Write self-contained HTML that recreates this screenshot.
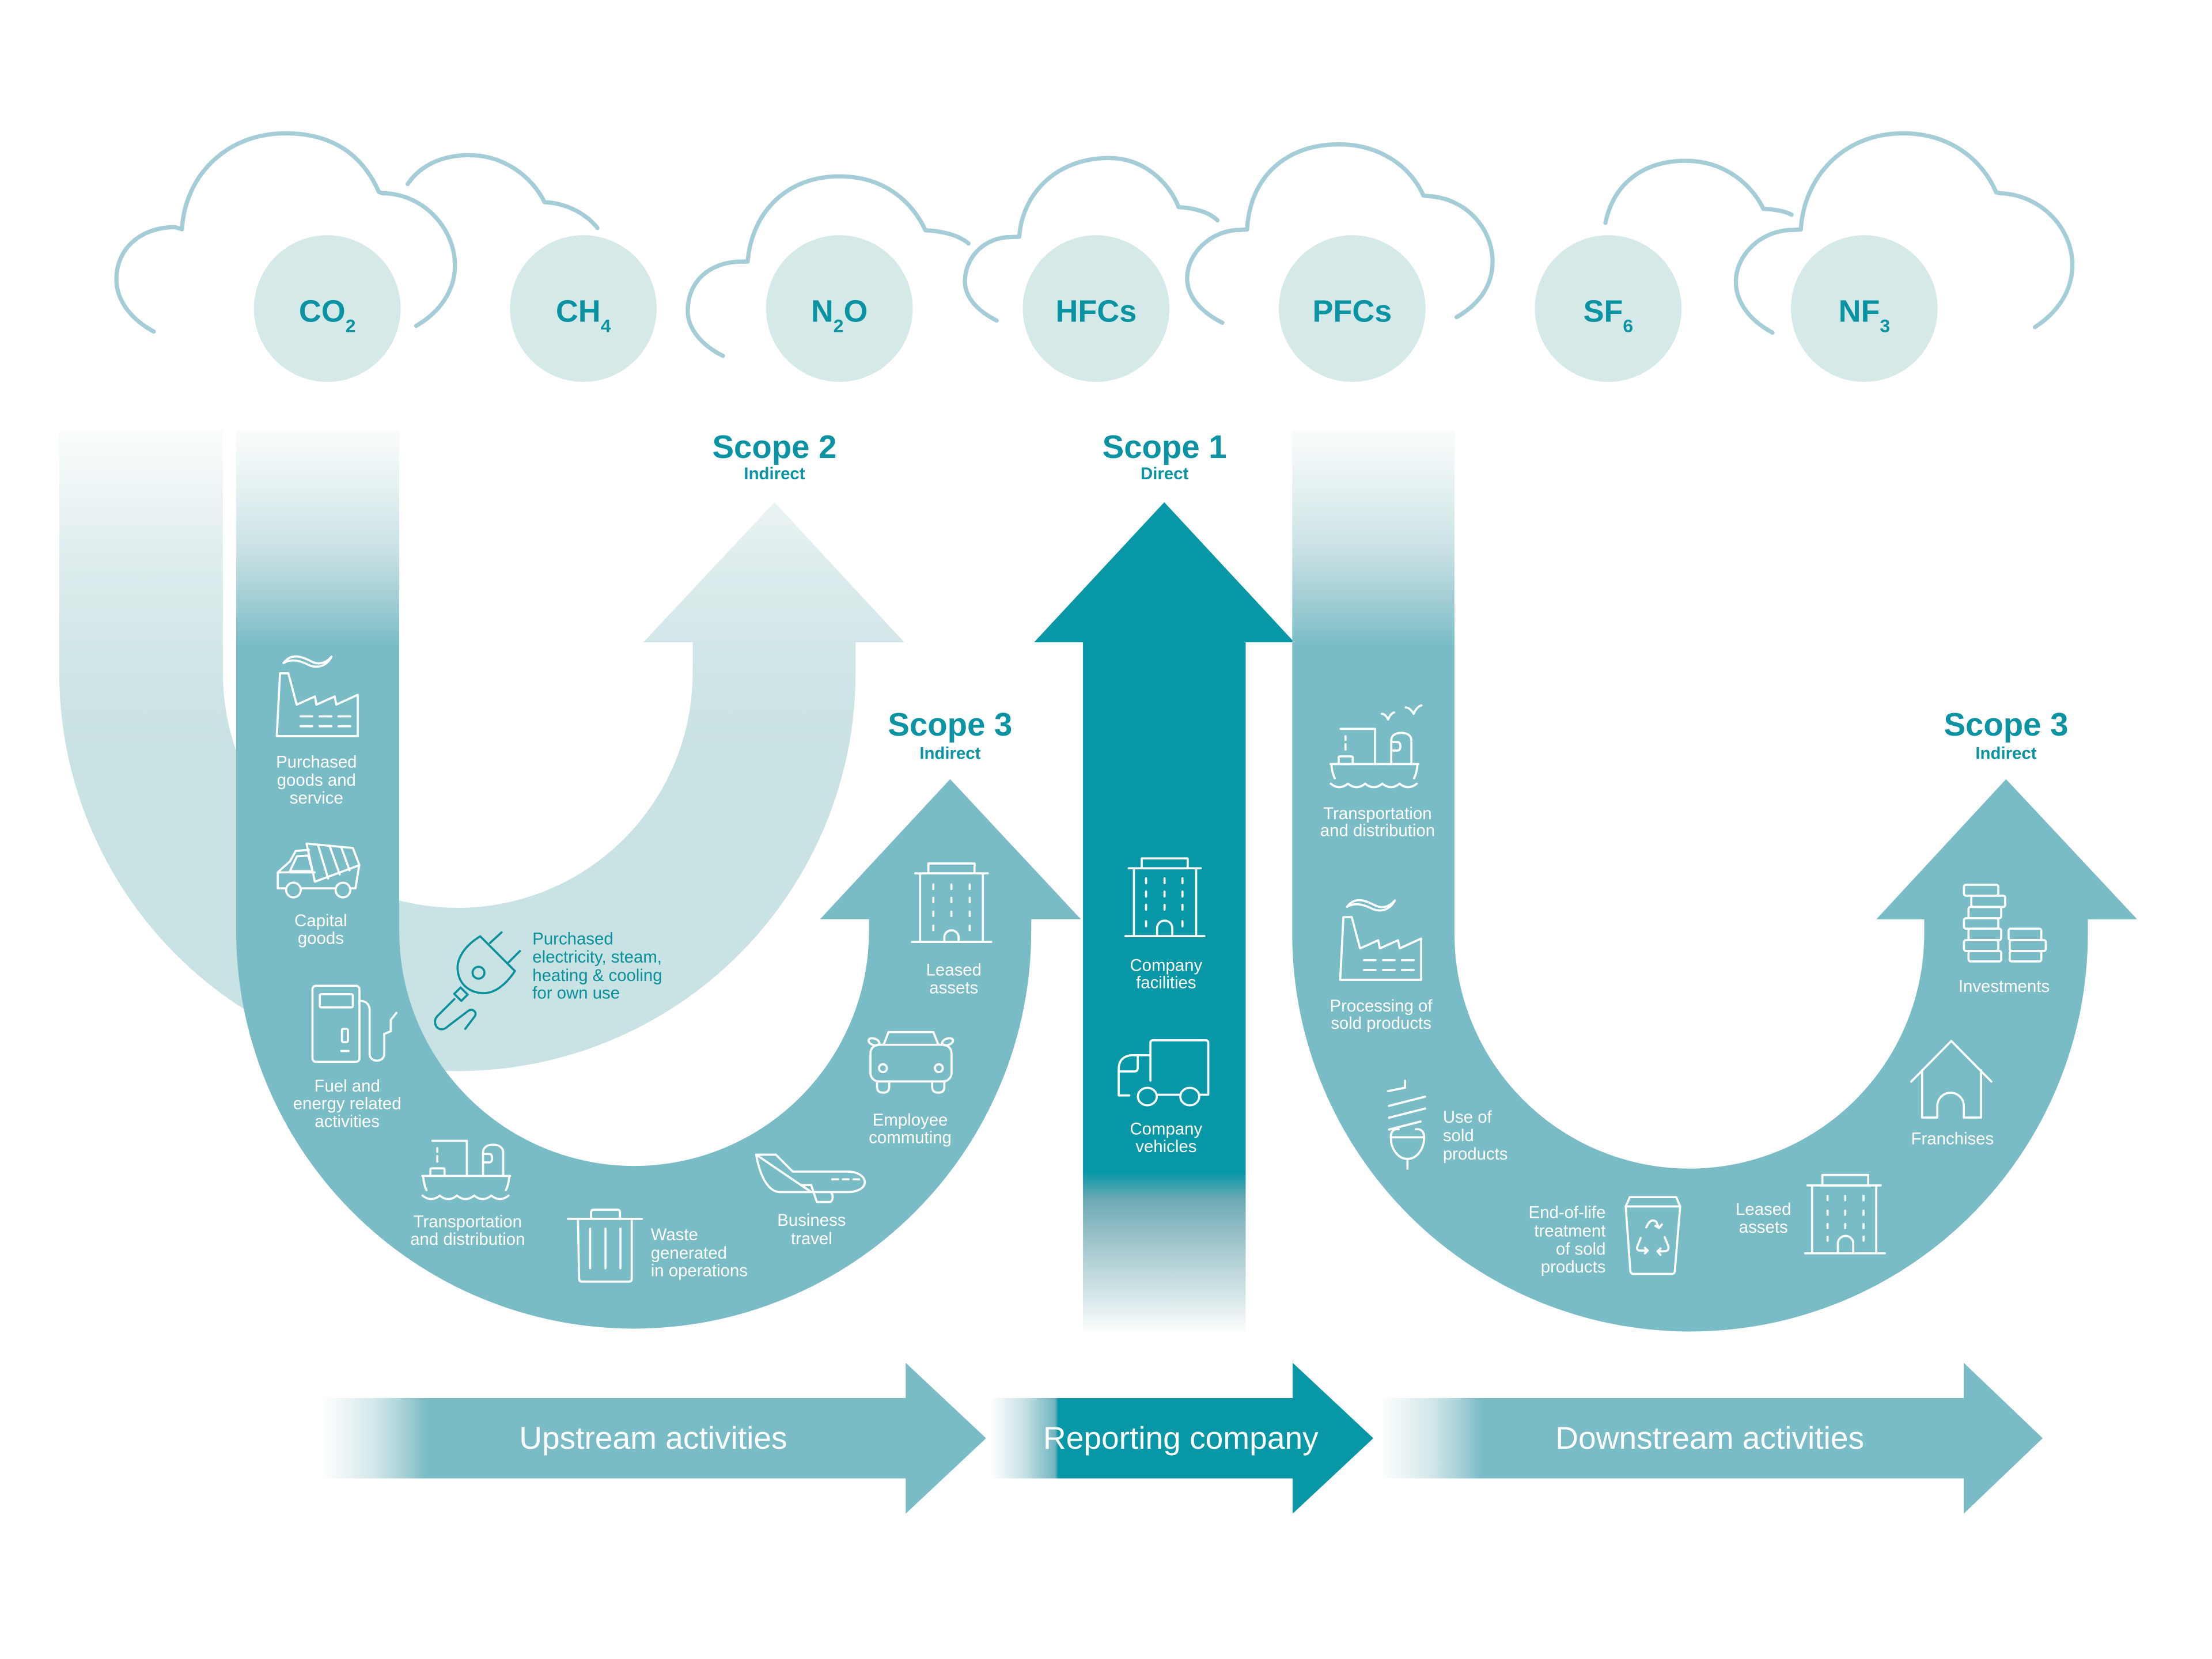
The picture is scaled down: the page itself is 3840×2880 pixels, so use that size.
<!DOCTYPE html>
<html><head><meta charset="utf-8"><style>html,body{margin:0;padding:0;background:#fff}svg{display:block}</style></head>
<body>
<svg width="3840" height="2880" viewBox="0 0 1568 1176" xmlns="http://www.w3.org/2000/svg" font-family="'Liberation Sans', sans-serif">
<defs>
 <linearGradient id="gL" gradientUnits="userSpaceOnUse" x1="0" y1="305" x2="0" y2="530">
  <stop offset="0" stop-color="#fbfdfd"/><stop offset="0.2" stop-color="#ecf4f5"/><stop offset="0.45" stop-color="#dcebec"/><stop offset="0.75" stop-color="#cfe5e7"/><stop offset="1" stop-color="#c9e2e4"/>
 </linearGradient>
 <linearGradient id="gM" gradientUnits="userSpaceOnUse" x1="0" y1="305" x2="0" y2="458">
  <stop offset="0" stop-color="#fafcfc"/><stop offset="0.3" stop-color="#e2eff0"/><stop offset="0.56" stop-color="#c8e1e4"/><stop offset="0.76" stop-color="#a6d0d6"/><stop offset="1" stop-color="#7abcc6"/>
 </linearGradient>
 <linearGradient id="gS1" gradientUnits="userSpaceOnUse" x1="0" y1="831" x2="0" y2="946">
  <stop offset="0" stop-color="#0897a6"/><stop offset="0.17" stop-color="#6eaab5"/><stop offset="0.47" stop-color="#a6c9cf"/><stop offset="0.78" stop-color="#d8e8ea"/><stop offset="1" stop-color="#ffffff"/>
 </linearGradient>
 <linearGradient id="gA1" gradientUnits="userSpaceOnUse" x1="228" y1="0" x2="302" y2="0">
  <stop offset="0" stop-color="#ffffff"/><stop offset="0.5" stop-color="#d3e8ea"/><stop offset="0.85" stop-color="#9ccbd2"/><stop offset="1" stop-color="#7abcc6"/>
 </linearGradient>
 <linearGradient id="gA2" gradientUnits="userSpaceOnUse" x1="702" y1="0" x2="756" y2="0">
  <stop offset="0" stop-color="#ffffff"/><stop offset="0.45" stop-color="#c6e1e4"/><stop offset="0.85" stop-color="#72b4bf"/><stop offset="0.89" stop-color="#0897a6"/><stop offset="1" stop-color="#0897a6"/>
 </linearGradient>
 <linearGradient id="gA3" gradientUnits="userSpaceOnUse" x1="978" y1="0" x2="1050" y2="0">
  <stop offset="0" stop-color="#ffffff"/><stop offset="0.5" stop-color="#d3e8ea"/><stop offset="0.85" stop-color="#9ccbd2"/><stop offset="1" stop-color="#7abcc6"/>
 </linearGradient>
</defs>

<!-- clouds -->
<g fill="none" stroke="#a4cdd7" stroke-width="3" stroke-linecap="round" stroke-linejoin="round">
 <path d="M109,235 C92,226 82.5,212 82.5,198 C82.5,176 100,161 124,161 L129,162.5 C131,125 160,94.5 202.5,94.5 C238,94.5 258,112 268.5,136 L271,137 C300,137 322.5,162 322.5,188 C322.5,206 312,221 295,231"/>
 <path d="M289,130.4 C299,116 315,110 332.5,110 C357,110 377,125 386,143.3 C401,144 415,151 423.5,161.6"/>
 <path d="M512.5,252.3 C496,244 487.5,232 487.5,220.5 C487.5,200 502,186 525,185.4 L530,185.4 C533,150 558,125 595,125 C626,125 646,142 656,163.2 C670,164 680,167 686.5,172.6"/>
 <path d="M706.5,227.2 C692,220 684,210 684,199.6 C684,182 698,168 717,168 L722.5,167.8 C725,135 751,112 786,112 C810,112 828,128 835.5,146.8 C848,147.5 858,151 863,156.2"/>
 <path d="M866.5,228.8 C851,221 841.5,210 841.5,197.2 C841.5,180 858,163 879,163 L884,162.7 C886,125 912,102.3 949,102.3 C978,102.3 1000,118 1009,138.6 L1012,139 C1038,140 1058,161 1058,185.4 C1058,203 1048,216 1032.5,224.8"/>
 <path d="M1138,158 C1144,129 1166,114 1195,114 C1222,114 1241,130 1250,148 C1259,148.5 1266,150 1270,152.2"/>
 <path d="M1256.5,235.8 C1240,227 1230.5,214 1230.5,199.6 C1230.5,181 1248,163 1271,163 L1276.5,162.7 C1279,124 1308,94.5 1349,94.5 C1382,94.5 1405,113 1415,136.3 L1418,137 C1446,138 1469,161 1469,187.8 C1469,206 1459,221 1442.5,231.9"/>
</g>

<!-- gas circles -->
<g fill="#d5e9e9">
 <circle cx="232" cy="218.7" r="52"/><circle cx="413.5" cy="218.7" r="52"/><circle cx="595" cy="218.7" r="52"/><circle cx="777" cy="218.7" r="52"/><circle cx="958.5" cy="218.7" r="52"/><circle cx="1140" cy="218.7" r="52"/><circle cx="1321.5" cy="218.7" r="52"/>
</g>
<g fill="#0a93a2" font-weight="bold" font-size="22" text-anchor="middle">
 <text x="232" y="228">CO<tspan font-size="13" dy="7.5">2</tspan></text>
 <text x="413.5" y="228">CH<tspan font-size="13" dy="7.5">4</tspan></text>
 <text x="595" y="228">N<tspan font-size="13" dy="7.5">2</tspan><tspan dy="-7.5">O</tspan></text>
 <text x="777" y="228">HFCs</text>
 <text x="958.5" y="228">PFCs</text>
 <text x="1140" y="228">SF<tspan font-size="13" dy="7.5">6</tspan></text>
 <text x="1321.5" y="228">NF<tspan font-size="13" dy="7.5">3</tspan></text>
</g>

<!-- Scope 2 light U -->
<path fill="url(#gL)" d="M42,305 L42,477 A282.25,282.25 0 0 0 606.5,477 L606.5,455.3 L641,455.3 L549,356 L456,455.3 L491,455.3 L491,477 A166.5,166.5 0 0 1 158,477 L158,305 Z"/>
<!-- Upstream Scope 3 U -->
<path fill="url(#gM)" d="M167.4,305 L167.4,660 A281.8,281.8 0 0 0 731,660 L731,651.6 L766.2,651.6 L673.5,552.3 L581.3,651.6 L616,651.6 L616,660 A166.5,166.5 0 0 1 283,660 L283,305 Z"/>
<!-- Scope 1 -->
<path fill="url(#gS1)" d="M767.7,946 L767.7,455.3 L733,455.3 L825.3,356 L917.5,455.3 L883,455.3 L883,946 Z"/>
<!-- Downstream U -->
<path fill="url(#gM)" d="M916,305 L916,662 A282,282 0 0 0 1480,662 L1480,651.7 L1515,651.7 L1422,552.3 L1330,651.7 L1364,651.7 L1364,662 A166.5,166.5 0 0 1 1031,662 L1031,305 Z"/>

<!-- Scope titles -->
<g fill="#0a93a2" text-anchor="middle" font-weight="bold">
 <text x="549" y="324.6" font-size="23">Scope 2</text>
 <text x="549" y="339.8" font-size="12">Indirect</text>
 <text x="825.5" y="324.6" font-size="23">Scope 1</text>
 <text x="825.5" y="339.8" font-size="12">Direct</text>
 <text x="673.5" y="521.5" font-size="23">Scope 3</text>
 <text x="673.5" y="538" font-size="12">Indirect</text>
 <text x="1422" y="521.5" font-size="23">Scope 3</text>
 <text x="1422" y="538" font-size="12">Indirect</text>
</g>

<!-- bottom arrows -->
<path fill="url(#gA1)" d="M228,991 L642,991 L642,966 L699,1019.5 L642,1073 L642,1048 L228,1048 Z"/>
<path fill="url(#gA2)" d="M702,991 L916.3,991 L916.3,966 L973.5,1019.5 L916.3,1073 L916.3,1048 L702,1048 Z"/>
<path fill="url(#gA3)" d="M978,991 L1392,991 L1392,966 L1448,1019.5 L1392,1073 L1392,1048 L978,1048 Z"/>
<g fill="#ffffff" font-size="22.5" text-anchor="middle">
 <text x="463" y="1027">Upstream activities</text>
 <text x="837" y="1027">Reporting company</text>
 <text x="1212" y="1027">Downstream activities</text>
</g>

<!-- white icons -->
<g fill="none" stroke="#ffffff" stroke-width="1.5" stroke-linecap="round" stroke-linejoin="round">
 <!-- factory upstream -->
 <g id="fac">
  <path d="M201,470 C207,462 215,466 221,469 C227,472 232,469 235,465.5 C231,473 224,474 218,471 C212,468 206,467 201,470 Z"/>
  <path d="M196.2,521.8 L198.5,477.3 L204.4,477.3 L210.3,499.5 L223.2,493.7 L224.3,499.5 L237.2,493.7 L238.4,499.5 L253.6,492.5 L253.6,521.8 Z"/>
  <path d="M213,507.8 L221.3,507.8 M226.6,507.8 L234.8,507.8 M240,507.8 L248.3,507.8 M213,514.8 L221.3,514.8 M226.6,514.8 L234.8,514.8 M240,514.8 L248.3,514.8"/>
 </g>
 <!-- dump truck -->
 <path d="M217.3,598 L250.1,601.1 L254.8,613.3 L223.2,625 Z"/>
 <path d="M225.5,599.2 L232.6,622.7 M233.7,599.9 L240.8,619.8 M241.9,600.6 L247.8,617"/>
 <path d="M196.9,629.7 L196.9,618.4 L205.6,610.5 L209.6,603.2 L219,602.5"/>
 <path d="M205.5,617.5 L210.5,607 L218.5,606.5 L221.5,617.5 Z"/>
 <path d="M196.9,629.7 L202,629.7 M214,629.7 L237,629.7 M249,629.7 L252,629.7 L254.5,614"/>
 <path d="M196.9,618.4 L223,618.4"/>
 <circle cx="208" cy="630.9" r="5.2"/><circle cx="243.1" cy="630.9" r="5.2"/>
 <!-- fuel pump -->
 <rect x="221.5" y="698.8" width="33.3" height="53.9" rx="2.5"/>
 <rect x="226.7" y="704.7" width="23.4" height="9.4" rx="1"/>
 <rect x="242.4" y="729.3" width="4.2" height="9.4" rx="1"/>
 <path d="M241.9,745 L247.1,745"/>
 <path d="M254.8,709.4 C259.5,709.4 262,712 262,716 L262,747 C262,753.5 272.4,753.5 272.4,747 L272.4,733 L277,731 L277,723 L281,718"/>
 <!-- ship upstream -->
 <g id="ship">
  <path d="M306.5,808.7 L330.9,808.7 L330.9,833.6"/>
  <path d="M310,813.9 L310,816.5 M310,819.5 L310,823.4"/>
  <rect x="305.1" y="828.2" width="10" height="5.4" rx="0.8"/>
  <path d="M342.4,833.6 L342.4,817 C342.4,813.5 345,811.5 349.5,811.5 C354,811.5 356.7,813.5 356.7,817 L356.7,833.6"/>
  <path d="M342.4,818 L347,818 C349.5,818 349.5,824 347,824 L342.4,824"/>
  <path d="M299.4,833.6 L361.6,833.6 M300,834 C300.3,838 301,841 302.3,843.6 M361,834 C360.7,838 360,841 358.6,843.6"/>
  <path d="M299.5,847.5 q6.1,5 12.2,0 q6.1,5 12.2,0 q6.1,5 12.2,0 q6.1,5 12.2,0 q6.1,5 12.2,0"/>
 </g>
 <!-- trash -->
 <path d="M419,864 L419,859.5 Q419,857.5 421,857.5 L437.5,857.5 Q439.5,857.5 439.5,859.5 L439.5,864"/>
 <path d="M402.5,864 L455,864"/>
 <path d="M409.7,864 L410.5,906.5 Q410.6,908.5 412.6,908.5 L445.8,908.5 Q447.8,908.5 447.8,906.5 L447.8,864"/>
 <path d="M418.3,871 L418.3,899 M429.2,871 L429.2,899 M439.8,871 L439.8,899"/>
 <!-- plane -->
 <path d="M536,818.5 L550,818.5 L562,830.5 L601,830.5 C608,830.5 613,834 613,838 C613,842 608,845 601,845 L589,845 M575,845 L553,845 C545,845 539,835 536,818.5 Z"/>
 <path d="M568,840 L575,840 L579,852 L588,852 C591,852 591,845 588,845 L575,845 L568,840 Z"/>
 <path d="M590,836 L594,836 M597.5,836 L601.5,836 M605,836 L609,836"/>
 <!-- car -->
 <path d="M626.4,740.6 L629.8,731.6 L661.6,731.6 L665.2,740.6"/>
 <rect x="617" y="740.6" width="57.5" height="26" rx="6"/>
 <ellipse cx="619.5" cy="738.5" rx="4" ry="2.3" transform="rotate(20 619.5 738.5)"/>
 <ellipse cx="671.7" cy="738.5" rx="4" ry="2.3" transform="rotate(-20 671.7 738.5)"/>
 <circle cx="625.9" cy="757.2" r="2.8"/><circle cx="665.5" cy="757.2" r="2.8"/>
 <path d="M621.7,766.6 L621.7,770.5 Q621.7,774.5 626,774.5 Q630.3,774.5 630.3,770.5 L630.3,766.6 M660.8,766.6 L660.8,770.5 Q660.8,774.5 665.1,774.5 Q669.4,774.5 669.4,770.5 L669.4,766.6"/>
 <!-- leased building upstream -->
 <rect x="658.1" y="612.1" width="32.7" height="7"/>
 <path d="M648.8,619.1 L700.2,619.1 M652.2,619.1 L652.2,667 M696.7,619.1 L696.7,667 M646.4,667.7 L702.7,667.7"/>
 <path d="M661.6,627 L661.6,630.2 M674.4,627 L674.4,630.2 M687.4,627 L687.4,630.2 M661.6,636.4 L661.6,639.6 M674.4,636.4 L674.4,639.6 M687.4,636.4 L687.4,639.6 M661.6,646.2 L661.6,649.3 M674.4,646.2 L674.4,649.3 M687.4,646.2 L687.4,649.3 M661.6,656.2 L661.6,659.3 M687.4,656.2 L687.4,659.3"/>
 <path d="M669.4,667 L669.4,664.5 A5.05,5.05 0 0 1 679.5,664.5 L679.5,667"/>
 <!-- scope 1 building -->
 <rect x="809.3" y="608.5" width="32.6" height="7"/>
 <path d="M800.1,615.5 L851.2,615.5 M803.8,615.5 L803.8,663.1 M847.9,615.5 L847.9,663.1 M797.8,663.6 L853.7,663.6"/>
 <path d="M812.4,622.6 L812.4,626.1 M825.5,622.6 L825.5,626.1 M838.2,622.6 L838.2,626.1 M812.4,632 L812.4,635.5 M825.5,632 L825.5,635.5 M838.2,632 L838.2,635.5 M812.4,641.3 L812.4,644.8 M825.5,641.3 L825.5,644.8 M838.2,641.3 L838.2,644.8 M812.4,653 L812.4,656.6 M838.2,653 L838.2,656.6"/>
 <path d="M820.2,663.1 L820.2,658 A5.4,5.4 0 0 1 831,658 L831,663.1"/>
 <!-- scope 1 truck -->
 <path d="M815.5,766 L815.5,739.4 Q815.5,737.4 817.5,737.4 L854.5,737.4 Q856.5,737.4 856.5,739.4 L856.5,776 L850.3,776"/>
 <path d="M815.5,748 L802,748 Q793,749 793,758 L793,776.5 L800.5,776.5 M793,759.5 L804,759.5 Q806.5,759.5 806.5,757 L806.5,748"/>
 <path d="M820,776 L836.6,776"/>
 <ellipse cx="813.3" cy="777.3" rx="6.7" ry="6.2"/><ellipse cx="843.4" cy="777.3" rx="6.7" ry="6.2"/>
 <!-- downstream ship -->
 <g transform="translate(643.8,-292)">
  <path d="M306.5,808.7 L330.9,808.7 L330.9,833.6"/>
  <path d="M310,813.9 L310,816.5 M310,819.5 L310,823.4"/>
  <rect x="305.1" y="828.2" width="10" height="5.4" rx="0.8"/>
  <path d="M342.4,833.6 L342.4,817 C342.4,813.5 345,811.5 349.5,811.5 C354,811.5 356.7,813.5 356.7,817 L356.7,833.6"/>
  <path d="M342.4,818 L347,818 C349.5,818 349.5,824 347,824 L342.4,824"/>
  <path d="M299.4,833.6 L361.6,833.6 M300,834 C300.3,838 301,841 302.3,843.6 M361,834 C360.7,838 360,841 358.6,843.6"/>
  <path d="M299.5,847.5 q6.1,5 12.2,0 q6.1,5 12.2,0 q6.1,5 12.2,0 q6.1,5 12.2,0 q6.1,5 12.2,0"/>
 </g>
 <path d="M979.5,506 q2.5,0 4.5,4 q1.5,-4 4.2,-5 M996.5,501.5 q3,0 5.6,4.5 q2,-5 5.5,-6"/>
 <!-- downstream factory -->
 <g transform="translate(753.8,172.8)">
  <path d="M201,470 C207,462 215,466 221,469 C227,472 232,469 235,465.5 C231,473 224,474 218,471 C212,468 206,467 201,470 Z"/>
  <path d="M196.2,521.8 L198.5,477.3 L204.4,477.3 L210.3,499.5 L223.2,493.7 L224.3,499.5 L237.2,493.7 L238.4,499.5 L253.6,492.5 L253.6,521.8 Z"/>
  <path d="M213,507.8 L221.3,507.8 M226.6,507.8 L234.8,507.8 M240,507.8 L248.3,507.8 M213,514.8 L221.3,514.8 M226.6,514.8 L234.8,514.8 M240,514.8 L248.3,514.8"/>
 </g>
 <!-- bulb -->
 <path d="M983.8,773.5 L996,771 L996,766.1"/>
 <path d="M984.6,783.9 L1010.2,777.4 M984.6,792.3 L1010.2,785.8 M984.6,800.7 L1007,795"/>
 <path d="M985.9,806.2 L1009.5,806.2 C1009.5,815 1004,821.5 997.7,821.5 C991.4,821.5 985.9,815 985.9,806.2 Z M997.7,821.5 L997.7,828.5"/>
 <path d="M985.9,806 C985.9,801.5 988.5,800 991.5,800.5 M1009.5,806 C1009.5,801.5 1006.5,800 1003.5,800.5"/>
 <!-- recycle bin -->
 <path d="M1152.4,855.2 L1155.3,848.6 L1188.2,848.6 L1191,855.2 Z"/>
 <path d="M1152.4,855.2 L1155.7,901 Q1156,903 1158,903 L1185,903 Q1187,903 1187.2,901 L1191,855.2"/>
 <path d="M1167,870 Q1170,863 1174,866 L1176,870.5 M1173.5,869 L1176,870.5 L1178,868"/>
 <path d="M1163,877.5 L1160.5,884 Q1160,886.5 1163,886.5 L1168,886.5 M1166,884.5 L1168,886.5 L1166,888.5"/>
 <path d="M1180,877 L1182.5,883 Q1183.5,887 1179.5,887 L1175,887 M1177,885 L1175,887 L1177,889.5"/>
 <!-- downstream leased building -->
 <rect x="1291.8" y="832.9" width="32.5" height="7.4"/>
 <path d="M1281.2,840.3 L1333.2,840.3 M1284.5,840.3 L1284.5,887.8 M1330,840.3 L1330,887.8 M1279.6,888.4 L1336.1,888.4"/>
 <path d="M1295.5,847.8 L1295.5,850.8 M1308,847.8 L1308,850.8 M1321,847.8 L1321,850.8 M1295.5,858.2 L1295.5,861.1 M1308,858.2 L1308,861.1 M1321,858.2 L1321,861.1 M1295.5,867.7 L1295.5,870.6 M1308,867.7 L1308,870.6 M1321,867.7 L1321,870.6 M1295.5,876.6 L1295.5,879.5 M1321,876.6 L1321,879.5"/>
 <path d="M1302.8,887.8 L1302.8,881.5 A5.45,5.45 0 0 1 1313.7,881.5 L1313.7,887.8"/>
 <!-- house -->
 <path d="M1354.8,766.7 L1383.2,737.9 L1411.6,766.7"/>
 <path d="M1362.5,758.7 L1362.5,792.2 L1373.3,792.2 L1373.3,784 A9.4,9.4 0 0 1 1392.1,784 L1392.1,792.2 L1404.3,792.2 L1404.3,758.7"/>
 <!-- coins -->
 <rect x="1392.2" y="627.2" width="24.3" height="7.7" rx="1.5"/>
 <rect x="1397.4" y="634.9" width="24" height="8" rx="1.5"/>
 <rect x="1395.4" y="642.9" width="23.2" height="8" rx="1.5"/>
 <rect x="1392.2" y="650.9" width="24.3" height="7.4" rx="1.5"/>
 <rect x="1395.4" y="658.3" width="23.2" height="8.1" rx="1.5"/>
 <rect x="1392.2" y="666.4" width="24.3" height="7.7" rx="1.5"/>
 <rect x="1395.4" y="674.1" width="23.2" height="7.4" rx="1.5"/>
 <rect x="1423.8" y="658.3" width="23.2" height="8.1" rx="1.5"/>
 <rect x="1424.6" y="666.4" width="25.6" height="7.7" rx="1.5"/>
 <rect x="1424.6" y="674.1" width="22.4" height="7.4" rx="1.5"/>
</g>

<!-- plug (teal) -->
<g fill="none" stroke="#0a8f9c" stroke-width="1.5" stroke-linecap="round" stroke-linejoin="round">
 <path d="M340.4,663.7 C330,670 322,680 325,691 C327,699 334,704 343,704 C352,704 360,696 365,688.3 Z"/>
 <path d="M347.4,668.4 L355.6,660.9 M360.3,682.4 L368.5,674.2"/>
 <circle cx="339.2" cy="689.5" r="4.2"/>
 <path d="M326.5,700 L331.5,705 L327,709.5 L322,704.5 Z"/>
 <path d="M322.1,708.2 L310,720.3 C306.5,724 309,730.5 314,729.5 C315.5,729.2 316.5,728.5 317.5,727.5 L332,716.5 C335,714.5 338.5,717.5 336.5,720.5 L329.8,729.3"/>
</g>
<g fill="#0a8f9c" font-size="12">
 <text x="377.4" y="669.5">Purchased</text>
 <text x="377.4" y="682.4">electricity, steam,</text>
 <text x="377.4" y="695.3">heating &amp; cooling</text>
 <text x="377.4" y="707.8">for own use</text>
</g>

<!-- white labels -->
<g fill="#ffffff" font-size="12" text-anchor="middle">
 <text x="224.3" y="544.1">Purchased</text>
 <text x="224.3" y="557">goods and</text>
 <text x="224.3" y="569.6">service</text>
 <text x="227.4" y="656.6">Capital</text>
 <text x="227.4" y="669.1">goods</text>
 <text x="246.1" y="773.8">Fuel and</text>
 <text x="246.1" y="786.3">energy related</text>
 <text x="246.1" y="798.9">activities</text>
 <text x="331.5" y="870">Transportation</text>
 <text x="331.5" y="882.4">and distribution</text>
 <text x="575.3" y="869">Business</text>
 <text x="575.3" y="882">travel</text>
 <text x="645.2" y="797.9">Employee</text>
 <text x="645.2" y="810.4">commuting</text>
 <text x="676.1" y="691.6">Leased</text>
 <text x="676.1" y="704.1">assets</text>
 <text x="826.6" y="688.2">Company</text>
 <text x="826.6" y="700.4">facilities</text>
 <text x="826.6" y="804.2">Company</text>
 <text x="826.6" y="816.7">vehicles</text>
 <text x="976.5" y="580.6">Transportation</text>
 <text x="976.5" y="592.6">and distribution</text>
 <text x="979" y="717.1">Processing of</text>
 <text x="979" y="729.2">sold products</text>
 <text x="1250" y="861.1">Leased</text>
 <text x="1250" y="873.9">assets</text>
 <text x="1384" y="811.2">Franchises</text>
 <text x="1420.6" y="703.2">Investments</text>
</g>
<g fill="#ffffff" font-size="12">
 <text x="461.3" y="879.2">Waste</text>
 <text x="461.3" y="892.2">generated</text>
 <text x="461.3" y="904.6">in operations</text>
 <text x="1022.8" y="795.8">Use of</text>
 <text x="1022.8" y="809">sold</text>
 <text x="1022.8" y="821.9">products</text>
</g>
<g fill="#ffffff" font-size="12" text-anchor="end">
 <text x="1138.2" y="863.5">End-of-life</text>
 <text x="1138.2" y="876.4">treatment</text>
 <text x="1138.2" y="889.3">of sold</text>
 <text x="1138.2" y="902.1">products</text>
</g>
</svg>
</body></html>
